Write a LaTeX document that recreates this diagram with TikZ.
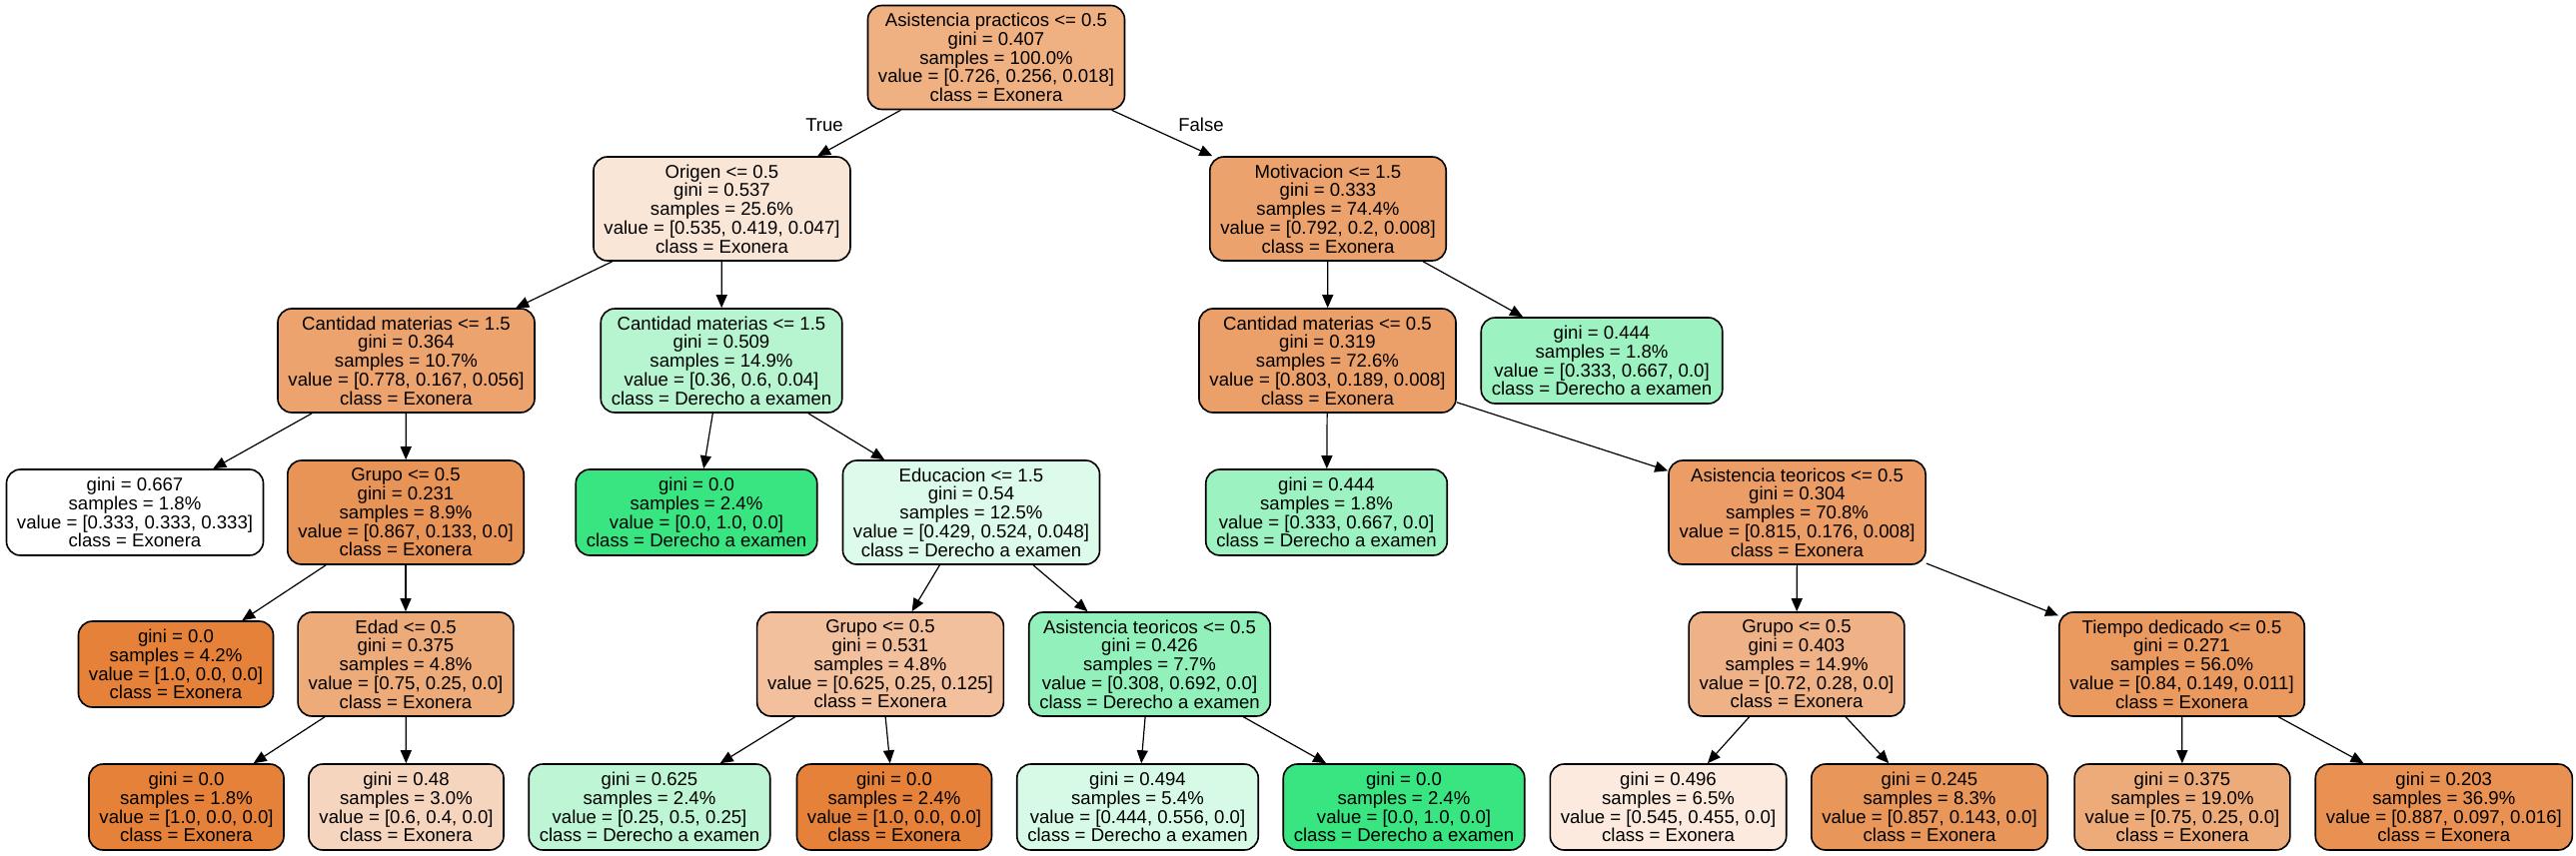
\documentclass[tikz,border=0pt]{standalone}
\usepackage{fontspec}
\setmainfont{Liberation Sans}
\usepackage{tikz}
\usetikzlibrary{arrows.meta}
\usetikzlibrary{positioning}
\definecolor{exo}{RGB}{229,129,57}
\definecolor{der}{RGB}{57,229,129}
\begin{document}
\begin{tikzpicture}[x=0.5pt,y=-0.5pt,
  box/.style={draw,rounded corners=7pt,line width=0.8pt,align=center,
    inner xsep=5.25pt,inner ysep=0pt,font=\fontsize{9.29}{9.375}\selectfont},
  splitnode/.style={box,minimum height=52pt},
  leafnode/.style={box,minimum height=43pt},
  edge/.style={line width=0.6pt,-{Triangle[length=6.5pt,width=5.5pt]}},
  lbl/.style={font=\fontsize{9.29}{9.375}\selectfont}]
\fill[white] (0,0) rectangle (2578,856);
\useasboundingbox (0,0) rectangle (2578,856);
% level 1
\node[splitnode,fill=exo!63!white] (n0) at (997,57.5) {Asistencia practicos <= 0.5\\gini = 0.407\\samples = 100.0\%\\value = [0.726, 0.256, 0.018]\\class = Exonera};
% level 2
\node[splitnode,fill=exo!20!white] (n1) at (722.5,209) {Origen <= 0.5\\gini = 0.537\\samples = 25.6\%\\value = [0.535, 0.419, 0.047]\\class = Exonera};
\node[splitnode,fill=exo!74!white] (n18) at (1329,209) {Motivacion <= 1.5\\gini = 0.333\\samples = 74.4\%\\value = [0.792, 0.2, 0.008]\\class = Exonera};
% level 3
\node[splitnode,fill=exo!73!white] (n2) at (406.5,361) {Cantidad materias <= 1.5\\gini = 0.364\\samples = 10.7\%\\value = [0.778, 0.167, 0.056]\\class = Exonera};
\node[splitnode,fill=der!37!white] (n9) at (722,361) {Cantidad materias <= 1.5\\gini = 0.509\\samples = 14.9\%\\value = [0.36, 0.6, 0.04]\\class = Derecho a examen};
\node[splitnode,fill=exo!76!white] (n19) at (1328.5,361) {Cantidad materias <= 0.5\\gini = 0.319\\samples = 72.6\%\\value = [0.803, 0.189, 0.008]\\class = Exonera};
\node[leafnode,fill=der!50!white] (n28) at (1603,361) {gini = 0.444\\samples = 1.8\%\\value = [0.333, 0.667, 0.0]\\class = Derecho a examen};
% level 4
\node[leafnode,fill=white] (n3) at (135,513) {gini = 0.667\\samples = 1.8\%\\value = [0.333, 0.333, 0.333]\\class = Exonera};
\node[splitnode,fill=exo!85!white] (n4) at (406,513) {Grupo <= 0.5\\gini = 0.231\\samples = 8.9\%\\value = [0.867, 0.133, 0.0]\\class = Exonera};
\node[leafnode,fill=der] (n10) at (697,513) {gini = 0.0\\samples = 2.4\%\\value = [0.0, 1.0, 0.0]\\class = Derecho a examen};
\node[splitnode,fill=der!17!white] (n11) at (972,513) {Educacion <= 1.5\\gini = 0.54\\samples = 12.5\%\\value = [0.429, 0.524, 0.048]\\class = Derecho a examen};
\node[leafnode,fill=der!50!white] (n20) at (1327.5,513) {gini = 0.444\\samples = 1.8\%\\value = [0.333, 0.667, 0.0]\\class = Derecho a examen};
\node[splitnode,fill=exo!78!white] (n21) at (1798.5,513) {Asistencia teoricos <= 0.5\\gini = 0.304\\samples = 70.8\%\\value = [0.815, 0.176, 0.008]\\class = Exonera};
% level 5
\node[leafnode,fill=exo] (n5) at (176,665) {gini = 0.0\\samples = 4.2\%\\value = [1.0, 0.0, 0.0]\\class = Exonera};
\node[splitnode,fill=exo!67!white] (n6) at (406,665) {Edad <= 0.5\\gini = 0.375\\samples = 4.8\%\\value = [0.75, 0.25, 0.0]\\class = Exonera};
\node[splitnode,fill=exo!50!white] (n12) at (881,665) {Grupo <= 0.5\\gini = 0.531\\samples = 4.8\%\\value = [0.625, 0.25, 0.125]\\class = Exonera};
\node[splitnode,fill=der!55!white] (n15) at (1150.5,665) {Asistencia teoricos <= 0.5\\gini = 0.426\\samples = 7.7\%\\value = [0.308, 0.692, 0.0]\\class = Derecho a examen};
\node[splitnode,fill=exo!61!white] (n22) at (1798,665) {Grupo <= 0.5\\gini = 0.403\\samples = 14.9\%\\value = [0.72, 0.28, 0.0]\\class = Exonera};
\node[splitnode,fill=exo!81!white] (n25) at (2183.5,665) {Tiempo dedicado <= 0.5\\gini = 0.271\\samples = 56.0\%\\value = [0.84, 0.149, 0.011]\\class = Exonera};
% level 6
\node[leafnode,fill=exo] (n7) at (186.5,808) {gini = 0.0\\samples = 1.8\%\\value = [1.0, 0.0, 0.0]\\class = Exonera};
\node[leafnode,fill=exo!33!white] (n8) at (406.5,808) {gini = 0.48\\samples = 3.0\%\\value = [0.6, 0.4, 0.0]\\class = Exonera};
\node[leafnode,fill=der!33!white] (n13) at (650,808) {gini = 0.625\\samples = 2.4\%\\value = [0.25, 0.5, 0.25]\\class = Derecho a examen};
\node[leafnode,fill=exo] (n14) at (895,808) {gini = 0.0\\samples = 2.4\%\\value = [1.0, 0.0, 0.0]\\class = Exonera};
\node[leafnode,fill=der!20!white] (n16) at (1138.5,808) {gini = 0.494\\samples = 5.4\%\\value = [0.444, 0.556, 0.0]\\class = Derecho a examen};
\node[leafnode,fill=der] (n17) at (1405,808) {gini = 0.0\\samples = 2.4\%\\value = [0.0, 1.0, 0.0]\\class = Derecho a examen};
\node[leafnode,fill=exo!17!white] (n23) at (1669.5,808) {gini = 0.496\\samples = 6.5\%\\value = [0.545, 0.455, 0.0]\\class = Exonera};
\node[leafnode,fill=exo!83!white] (n24) at (1931,808) {gini = 0.245\\samples = 8.3\%\\value = [0.857, 0.143, 0.0]\\class = Exonera};
\node[leafnode,fill=exo!67!white] (n26) at (2184,808) {gini = 0.375\\samples = 19.0\%\\value = [0.75, 0.25, 0.0]\\class = Exonera};
\node[leafnode,fill=exo!87!white] (n27) at (2445.75,808) {gini = 0.203\\samples = 36.9\%\\value = [0.887, 0.097, 0.016]\\class = Exonera};
% edges
\foreach \a/\b in {n0/n1,n0/n18,n1/n2,n1/n9,n2/n3,n2/n4,n4/n5,n4/n6,n6/n7,n6/n8,
  n9/n10,n9/n11,n11/n12,n11/n15,n12/n13,n12/n14,n15/n16,n15/n17,
  n18/n19,n18/n28,n19/n20,n19/n21,n21/n22,n21/n25,n22/n23,n22/n24,n25/n26,n25/n27}
  \draw[edge] (\a) -- (\b);
\node[lbl] (lbltrue) at (825,125) {True};
\node[lbl] (lblfalse) at (1202,125) {False};
\end{tikzpicture}
\end{document}
